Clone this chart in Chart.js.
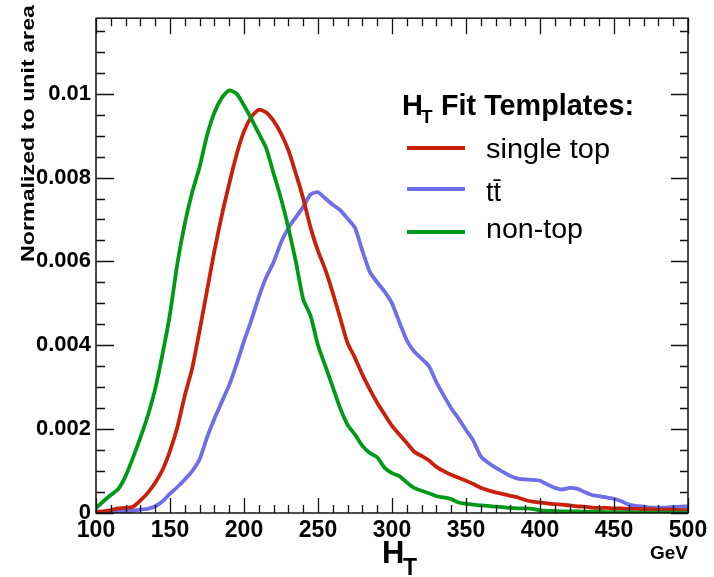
<!DOCTYPE html>
<html>
<head>
<meta charset="utf-8">
<script src="https://cdn.jsdelivr.net/npm/chart.js@4.4.0/dist/chart.umd.min.js"></script>
<style>
  html, body { margin: 0; padding: 0; background: #fff; }
  #wrap { width: 714px; height: 577px; }
</style>
</head>
<body>
<div id="wrap"><canvas id="htChart" width="714" height="577"></canvas></div>
<script>
// ===== DATA =====
const htBins = [100,105,110,115,120,125,130,135,140,145,150,155,160,165,170,175,180,185,190,195,
                200,205,210,215,220,225,230,235,240,245,250,255,260,265,270,275,280,285,290,295,
                300,305,310,315,320,325,330,335,340,345,350,355,360,365,370,375,380,385,390,395,
                400,405,410,415,420,425,430,435,440,445,450,455,460,465,470,475,480,485,490,495,500];

const nonTop = [0.00012,0.00028,0.00043,0.00057,0.00088,0.00132,0.00180,0.00232,0.00296,0.00380,
                0.00475,0.00595,0.00690,0.00765,0.00825,0.00900,0.00955,0.00990,0.01008,0.01000,
                0.00972,0.00940,0.00905,0.00870,0.00810,0.00750,0.00680,0.00600,0.00510,0.00470,
                0.00400,0.00350,0.00300,0.00250,0.00210,0.00187,0.00160,0.00143,0.00133,0.00108,
                0.00095,0.00088,0.00073,0.00060,0.00053,0.00047,0.00040,0.00037,0.00033,0.00025,
                0.00022,0.00020,0.00018,0.00017,0.00015,0.00014,0.00012,0.00011,0.00011,0.00010,
                0.00006,0.00005,0.00005,0.00004,0.00004,0.00004,0.00003,0.00003,0.00003,0.00002,
                0.00002,0.00002,0.00002,0.00001,0.00001,0.00001,0.00001,0.00001,0.00001,0.00001,0.00001];

const singleTop = [0.00002,0.00004,0.00007,0.00011,0.00012,0.00015,0.00030,0.00048,0.00072,0.00103,
                   0.00148,0.00205,0.00280,0.00345,0.00435,0.00530,0.00625,0.00710,0.00785,0.00855,
                   0.00910,0.00945,0.00962,0.00955,0.00935,0.00905,0.00865,0.00810,0.00750,0.00680,
                   0.00625,0.00580,0.00525,0.00465,0.00405,0.00370,0.00330,0.00295,0.00263,0.00235,
                   0.00208,0.00187,0.00167,0.00146,0.00136,0.00125,0.00110,0.00100,0.00091,0.00084,
                   0.00077,0.00069,0.00060,0.00054,0.00049,0.00045,0.00041,0.00037,0.00031,0.00027,
                   0.00025,0.00023,0.00021,0.00020,0.00018,0.00016,0.00015,0.00013,0.00012,0.00012,
                   0.00011,0.00011,0.00010,0.00010,0.00009,0.00009,0.00008,0.00008,0.00008,0.00007,0.00007];

const ttbar = [0.00003,0.00003,0.00004,0.00004,0.00005,0.00006,0.00008,0.00010,0.00016,0.00028,
               0.00046,0.00062,0.00080,0.00100,0.00128,0.00180,0.00225,0.00265,0.00305,0.00355,
               0.00410,0.00460,0.00515,0.00562,0.00598,0.00645,0.00680,0.00705,0.00730,0.00760,
               0.00765,0.00750,0.00735,0.00722,0.00702,0.00680,0.00625,0.00575,0.00550,0.00528,
               0.00500,0.00455,0.00412,0.00385,0.00368,0.00350,0.00312,0.00280,0.00250,0.00225,
               0.00198,0.00172,0.00135,0.00120,0.00108,0.00098,0.00088,0.00082,0.00080,0.00079,
               0.00077,0.00068,0.00060,0.00056,0.00060,0.00058,0.00050,0.00043,0.00040,0.00037,
               0.00034,0.00028,0.00020,0.00017,0.00015,0.00013,0.00013,0.00013,0.00014,0.00015,0.00016];

const xTickValues = [100,150,200,250,300,350,400,450,500];
const yTickValues = [0,0.002,0.004,0.006,0.008,0.01];
const yTickLabels = ["0","0.002","0.004","0.006","0.008","0.01"];

const legendLabels = ["single top", "tt\u0304", "non-top"];

// ===== STYLE =====
const RED = "#c8200a";
const BLUE = "#6e6ee8";
const GREEN = "#009a17";
const FONT = "'Liberation Sans', Arial, Helvetica, sans-serif";

function series(values) {
    return htBins.map((x, i) => ({ x: x, y: values[i] }));
}

// draw text squeezed/stretched to a target width
function fitText(ctx, text, x, y, targetW) {
    const w = ctx.measureText(text).width;
    ctx.save();
    ctx.translate(x, y);
    if (targetW) ctx.scale(targetW / w, 1);
    ctx.fillText(text, 0, 0);
    ctx.restore();
}

// ROOT-style frame, ticks on all sides, titles and legend
const rootDecor = {
    id: "rootDecor",
    afterDraw(chart) {
        const ctx = chart.ctx;
        const xs = chart.scales.x, ys = chart.scales.y;
        const a = chart.chartArea;
        ctx.save();
        ctx.strokeStyle = "#111";
        ctx.lineWidth = 1.5;
        ctx.strokeRect(a.left, a.top, a.right - a.left, a.bottom - a.top);

        ctx.lineWidth = 1.3;
        ctx.beginPath();
        for (let v = 100; v <= 500; v += 10) {
            const px = Math.round(xs.getPixelForValue(v)) + 0.5;
            const major = v % 50 === 0;
            ctx.moveTo(px, a.bottom); ctx.lineTo(px, a.bottom - (major ? 15 : 8));
            ctx.moveTo(px, a.top); ctx.lineTo(px, a.top + (major ? 16 : 8));
        }
        for (let k = 0; k <= 23; k++) {
            const v = k * 0.0005;
            const py = Math.round(ys.getPixelForValue(v)) + 0.5;
            const major = k % 4 === 0;
            ctx.moveTo(a.left, py); ctx.lineTo(a.left + (major ? 18 : 9), py);
            ctx.moveTo(a.right, py); ctx.lineTo(a.right - (major ? 17 : 8), py);
        }
        ctx.stroke();

        ctx.fillStyle = "#000";
        // y title
        ctx.save();
        ctx.translate(29, 5);
        ctx.rotate(-Math.PI / 2);
        ctx.font = "bold 18px " + FONT;
        ctx.textAlign = "left";
        ctx.textBaseline = "middle";
        const yt = "Normalized to unit area";
        const w = ctx.measureText(yt).width;
        ctx.scale(257 / w, 1);
        ctx.fillText(yt, -w, 0);
        ctx.restore();

        // x title
        ctx.textAlign = "left";
        ctx.textBaseline = "alphabetic";
        ctx.font = "bold 31px " + FONT;
        ctx.fillText("H", 382, 563);
        ctx.font = "bold 23px " + FONT;
        ctx.fillText("T", 403, 575);
        ctx.font = "bold 19px " + FONT;
        ctx.textAlign = "right";
        ctx.fillText("GeV", 688, 559);

        // legend
        ctx.textAlign = "left";
        ctx.font = "bold 29px " + FONT;
        ctx.fillText("H", 402, 115);
        ctx.font = "bold 19px " + FONT;
        ctx.fillText("T", 421, 123);
        ctx.font = "bold 29px " + FONT;
        fitText(ctx, "Fit Templates:", 441, 115, 193);

        const lineY = [148, 189, 232];
        const baselines = [158, 201, 238];
        const widths = [124, null, 97];
        [RED, BLUE, GREEN].forEach((col, i) => {
            ctx.strokeStyle = col;
            ctx.lineWidth = 4;
            ctx.beginPath();
            ctx.moveTo(407, lineY[i]); ctx.lineTo(465, lineY[i]);
            ctx.stroke();
            ctx.font = "27px " + FONT;
            fitText(ctx, legendLabels[i], 486, baselines[i], widths[i]);
        });
        ctx.restore();
    }
};

const ctx = document.getElementById("htChart").getContext("2d");
const htChart = new Chart(ctx, {
    type: "line",
    data: {
        datasets: [
            { label: "non-top", data: series(nonTop), borderColor: GREEN },
            { label: "single top", data: series(singleTop), borderColor: RED },
            { label: "ttbar", data: series(ttbar), borderColor: BLUE }
        ].map(d => Object.assign(d, {
            borderWidth: 3.8, pointRadius: 0, fill: false, tension: 0.2
        }))
    },
    options: {
        responsive: false,
        animation: false,
        layout: { padding: { left: 0, top: 7, right: 26, bottom: 0 } },
        plugins: { legend: { display: false }, tooltip: { enabled: false } },
        scales: {
            x: {
                type: "linear", min: 100, max: 500,
                grid: { display: false, drawTicks: false },
                border: { display: false },
                afterBuildTicks: s => { s.ticks = xTickValues.map(v => ({ value: v })); },
                afterFit: s => { s.height = 64; },
                ticks: {
                    autoSkip: false, maxRotation: 0, padding: 4, color: "#000",
                    font: { family: FONT, weight: "bold", size: 23 },
                    callback: v => String(v)
                }
            },
            y: {
                type: "linear", min: 0, max: 0.0118,
                grid: { display: false, drawTicks: false },
                border: { display: false },
                afterBuildTicks: s => { s.ticks = yTickValues.map(v => ({ value: v })); },
                afterFit: s => { s.width = 96; },
                ticks: {
                    padding: 5, color: "#000",
                    font: { family: FONT, weight: "bold", size: 22 },
                    callback: (v, i) => yTickLabels[i]
                }
            }
        }
    },
    plugins: [rootDecor]
});
</script>
</body>
</html>
